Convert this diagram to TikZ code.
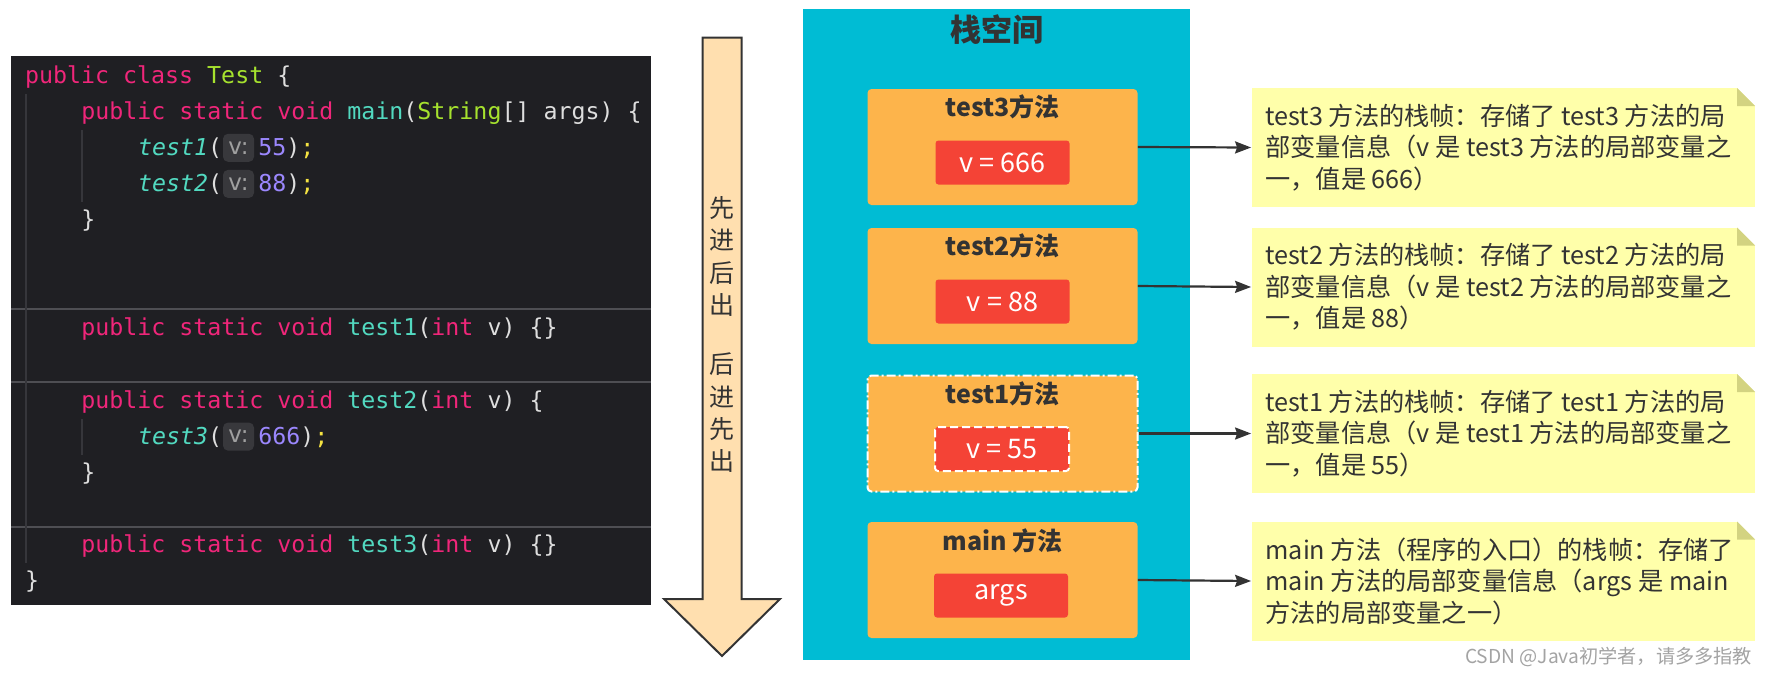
\documentclass[tikz,border=0pt]{standalone}
\usepackage{fontspec}
\setmainfont{Noto Sans CJK SC}
\newfontfamily\codefont{DejaVu Sans Mono}
\newfontfamily\hintfont{DejaVu Sans}
\usetikzlibrary{calc,arrows.meta}
\definecolor{codebg}{HTML}{1F1F23}
\definecolor{ckw}{HTML}{F0267A}
\definecolor{ccls}{HTML}{A6E22E}
\definecolor{cfn}{HTML}{52D9C0}
\definecolor{cnumc}{HTML}{9B87FD}
\definecolor{csc}{HTML}{F5E342}
\definecolor{cwhite}{HTML}{DEDEDE}
\definecolor{hintbg}{HTML}{38383C}
\definecolor{hinttx}{HTML}{A0A0A0}
\definecolor{sepc}{HTML}{4E4E53}
\definecolor{guidec}{HTML}{36363B}
\definecolor{arrfill}{HTML}{FFDFAF}
\definecolor{darktx}{HTML}{333333}
\definecolor{stackc}{HTML}{00BCD4}
\definecolor{framec}{HTML}{FDB44B}
\definecolor{redc}{HTML}{F44336}
\definecolor{notec}{HTML}{FFFFAA}
\definecolor{foldc}{HTML}{D3D381}
\definecolor{wmc}{HTML}{A3A3A3}
\newcommand\cdkw[1]{\textcolor{ckw}{#1}}
\newcommand\cdcls[1]{\textcolor{ccls}{#1}}
\newcommand\cdfn[1]{\textcolor{cfn}{#1}}
\newcommand\cdnum[1]{\textcolor{cnumc}{#1}}
\newcommand\cdsc[1]{\textcolor{csc}{#1}}
\begin{document}
\begin{tikzpicture}[x=0.5pt,y=-0.5pt,
  codeline/.style={font=\codefont\fontsize{11.63pt}{14pt}\selectfont, inner sep=0, anchor=base west, text=cwhite},
  hintbox/.style={fill=hintbg, rounded corners=2.5pt, minimum width=15.5pt, minimum height=14pt, inner sep=0, text=hinttx, font=\hintfont\fontsize{11.5pt}{12pt}\selectfont},
  sepline/.style={draw=sepc, line width=0.6pt},
  guide/.style={draw=guidec, line width=0.6pt},
  bigarrow/.style={fill=arrfill, draw=darktx, line width=1pt},
  arrtext/.style={text=darktx, align=center, inner sep=0, font=\fontsize{12.5pt}{16.15pt}\selectfont},
  frame/.style={fill=framec, rounded corners=2pt, minimum width=135pt, minimum height=58pt, inner sep=0},
  ftitle/.style={text=darktx, inner sep=0, font=\bfseries\fontsize{12.5pt}{14pt}\selectfont},
  valbox/.style={fill=redc, rounded corners=1.5pt, minimum width=67pt, minimum height=22pt, inner sep=0, text=white, font=\fontsize{13.5pt}{15pt}\selectfont},
  note/.style={fill=notec, minimum width=251.75pt, minimum height=59.5pt, inner sep=0,
    path picture={
      \fill[white] ($(path picture bounding box.north east)+(-18,0)$) -- (path picture bounding box.north east) -- ++(0,18) -- cycle;
      \fill[foldc] ($(path picture bounding box.north east)+(-18,0)$) -- ++(0,18) -- ++(18,0) -- cycle;
    }},
  notetext/.style={text=darktx, align=left, inner sep=0, anchor=west, font=\fontsize{12.6pt}{15.75pt}\selectfont},
  conn/.style={draw=darktx, line width=1.1pt, -{Stealth[length=8pt,width=6pt,inset=1pt]}}
]
\useasboundingbox (0,0) rectangle (1769,676);

% ---------------- code panel ----------------
\node[fill=codebg, minimum width=320pt, minimum height=274.5pt, inner sep=0, anchor=north west] (code) at (11,56) {};
\draw[sepline] (11,309) -- (651,309);
\draw[sepline] (11,382) -- (651,382);
\draw[sepline] (11,527) -- (651,527);
\draw[guide] (26,94) -- (26,563);
\draw[guide] (82,130) -- (82,202);
\draw[guide] (82,419) -- (82,455);

\node[codeline] (l0) at (24.8,83.1) {\cdkw{public class} \cdcls{Test} \{};
\node[codeline] (l1) at (81,119.2) {\cdkw{public static void} \cdfn{main}(\cdcls{String}[] args) \{};
\node[codeline] (l2) at (137.6,155.3) {\cdfn{\itshape test1}(};
\node[hintbox] (h2) at (238.5,147.8) {v:};
\node[codeline] (n2) at (258,155.3) {\cdnum{55})\cdsc{;}};
\node[codeline] (l3) at (137.6,191.4) {\cdfn{\itshape test2}(};
\node[hintbox] (h3) at (238.5,183.9) {v:};
\node[codeline] (n3) at (258,191.4) {\cdnum{88})\cdsc{;}};
\node[codeline] (l4) at (81,227.5) {\}};
\node[codeline] (l7) at (81,335.8) {\cdkw{public static void} \cdfn{test1}(\cdkw{int} v) \{\}};
\node[codeline] (l9) at (81,408.0) {\cdkw{public static void} \cdfn{test2}(\cdkw{int} v) \{};
\node[codeline] (l10) at (137.6,444.1) {\cdfn{\itshape test3}(};
\node[hintbox] (h10) at (238.5,436.6) {v:};
\node[codeline] (n10) at (258,444.1) {\cdnum{666})\cdsc{;}};
\node[codeline] (l11) at (81,480.2) {\}};
\node[codeline] (l13) at (81,552.4) {\cdkw{public static void} \cdfn{test3}(\cdkw{int} v) \{\}};
\node[codeline] (l14) at (24.8,588.5) {\}};

% ---------------- big arrow ----------------
\path[bigarrow] (702.5,37.5) -- (741.5,37.5) -- (741.5,599) -- (780,599) -- (722,656) -- (664,599) -- (702.5,599) -- cycle;
\node[arrtext] (ta) at (722,256.5) {先\\进\\后\\出};
\node[arrtext] (tb) at (722,413) {后\\进\\先\\出};

% ---------------- stack ----------------
\node[fill=stackc, minimum width=193.5pt, minimum height=325.5pt, inner sep=0] (stack) at (996.5,334.5) {};
\node[text=darktx, inner sep=0, font=\bfseries\fontsize{15.5pt}{18pt}\selectfont] (stitle) at (996.5,30) {栈空间};

\node[frame] (f3) at (1002.5,147) {};
\node[ftitle] (f3t) at (1002.5,107) {test3方法};
\node[valbox] (v3) at (1002.5,162.5) {v = 666};

\node[frame] (f2) at (1002.5,286) {};
\node[ftitle] (f2t) at (1002.5,246) {test2方法};
\node[valbox] (v2) at (1002.5,301.5) {v = 88};

\node[frame, draw=white, line width=1pt, dash pattern=on 4.5pt off 1.5pt on 1pt off 1.5pt] (f1) at (1002.5,433.5) {};
\node[ftitle] (f1t) at (1002.5,393.5) {test1方法};
\node[valbox, draw=white, line width=1pt, dash pattern=on 4pt off 2pt] (v1) at (1002,449) {v = 55};

\node[frame] (fm) at (1002.5,580) {};
\node[ftitle] (fmt) at (1002.5,541) {main 方法};
\node[valbox] (vm) at (1001,595.5) {args};

% ---------------- notes ----------------
\node[note] (n3box) at (1503.25,147.5) {};
\node[notetext] (n3txt) at ($(n3box.west)+(14,0)$) {test3 方法的栈帧：存储了 test3 方法的局\\部变量信息（v 是 test3 方法的局部变量之\\一，值是 666）};
\node[note] (n2box) at (1503.25,287) {};
\node[notetext] (n2txt) at ($(n2box.west)+(14,0)$) {test2 方法的栈帧：存储了 test2 方法的局\\部变量信息（v 是 test2 方法的局部变量之\\一，值是 88）};
\node[note] (n1box) at (1503.25,433.5) {};
\node[notetext] (n1txt) at ($(n1box.west)+(14,0)$) {test1 方法的栈帧：存储了 test1 方法的局\\部变量信息（v 是 test1 方法的局部变量之\\一，值是 55）};
\node[note] (nmbox) at (1503.25,581) {};
\node[notetext] (nmtxt) at ($(nmbox.west)+(14,0)$) {main 方法（程序的入口）的栈帧：存储了\\main 方法的局部变量信息（args 是 main\\方法的局部变量之一）};

\draw[conn] (f3.east) -- (n3box.west);
\draw[conn] (f2.east) -- (n2box.west);
\draw[conn] (f1.east) -- (n1box.west);
\draw[conn] (fm.east) -- (nmbox.west);

\node[text=wmc, inner sep=0, font=\fontsize{9.6pt}{11pt}\selectfont] (wm) at (1608.5,657) {CSDN @Java初学者，请多多指教};
\end{tikzpicture}
\end{document}
